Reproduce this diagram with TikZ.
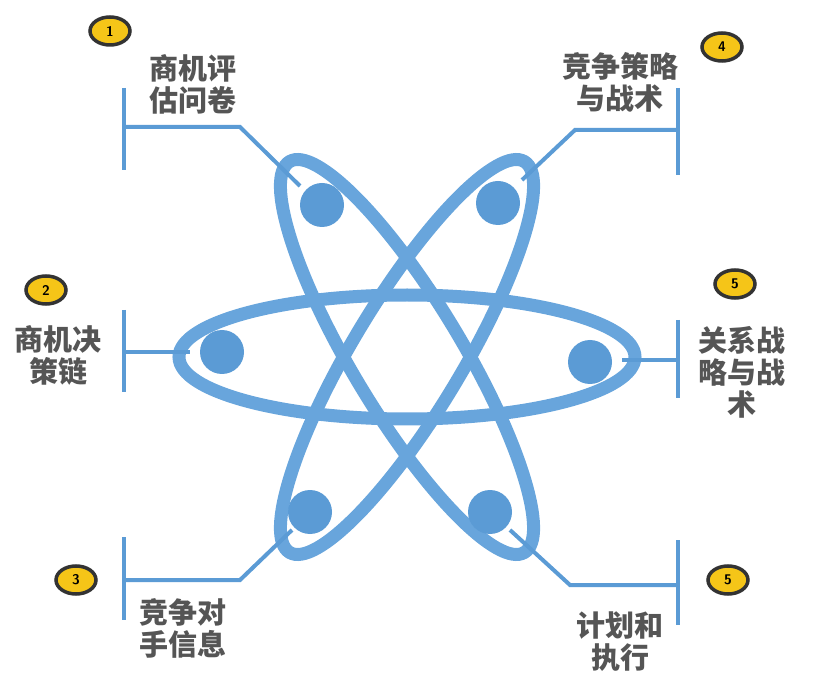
\documentclass[tikz,border=0pt]{standalone}
\usepackage{fontspec}
\usetikzlibrary{shapes.geometric}
\newfontfamily\cjk{Noto Sans CJK SC}
\begin{document}
\begin{tikzpicture}[x=1pt,y=-1pt,
  orbit/.style={draw=orb,line width=13pt},
  dot/.style={circle,fill=dotc,minimum size=44pt,inner sep=0pt},
  lbl/.style={font=\cjk\bfseries\fontsize{29}{32}\selectfont,text=txt,align=center},
  bar/.style={draw=barc,line width=4pt},
  badge/.style={ellipse,draw=black!80,line width=3.5pt,fill=yel,minimum width=40pt,minimum height=28pt,inner sep=0pt,font=\sffamily\bfseries\fontsize{14}{14}\selectfont}]
\definecolor{orb}{HTML}{68A5DC}
\definecolor{dotc}{HTML}{5B9BD5}
\definecolor{barc}{HTML}{5B9BD5}
\definecolor{txt}{HTML}{555555}
\definecolor{yel}{HTML}{F5C518}
\useasboundingbox (0,0) rectangle (814,692);
\coordinate (c) at (407,357);
\draw[orbit] (c) ellipse [x radius=228pt,y radius=62pt];
\draw[orbit,rotate around={59:(c)}] (c) ellipse [x radius=228pt,y radius=55pt];
\draw[orbit,rotate around={-59:(c)}] (c) ellipse [x radius=228pt,y radius=55pt];
\node[dot] (d1) at (322,205) {};
\node[dot] (d4) at (498,203) {};
\node[dot] (d2) at (222,352) {};
\node[dot] (d5) at (590,362) {};
\node[dot] (d3) at (310,512) {};
\node[dot] (d6) at (490,512) {};
% connectors
\draw[bar] (124,88) -- (124,170);
\coordinate (e1) at (300,186);
\draw[bar] (124,127) -- (240,127) -- (e1);
\draw[bar] (678,88) -- (678,175);
\coordinate (e4) at (522,180);
\draw[bar] (678,130) -- (575,130) -- (e4);
\draw[bar] (124,310) -- (124,392);
\coordinate (e2) at (190,352);
\draw[bar] (124,352) -- (e2);
\draw[bar] (678,320) -- (678,398);
\coordinate (e5) at (622,360);
\draw[bar] (678,360) -- (e5);
\draw[bar] (124,537) -- (124,620);
\coordinate (e3) at (292,530);
\draw[bar] (124,580) -- (240,580) -- (e3);
\draw[bar] (678,540) -- (678,625);
\coordinate (e6) at (510,530);
\draw[bar] (678,585) -- (570,585) -- (e6);
% labels
\node[lbl] (t1) at (193,84) {商机评\\估问卷};
\node[lbl] (t4) at (620,82) {竞争策略\\与战术};
\node[lbl] (t2) at (58,355) {商机决\\策链};
\node[lbl] (t5) at (742,372) {关系战\\略与战\\术};
\node[lbl] (t3) at (183,628) {竞争对\\手信息};
\node[lbl] (t6) at (620,642) {计划和\\执行};
% badges
\node[badge] (b1) at (110,31) {1};
\node[badge] (b4) at (722,47) {4};
\node[badge] (b2) at (46,290) {2};
\node[badge] (b5) at (735,284) {5};
\node[badge] (b3) at (76,580) {3};
\node[badge] (b6) at (728,580) {5};
\end{tikzpicture}
\end{document}
